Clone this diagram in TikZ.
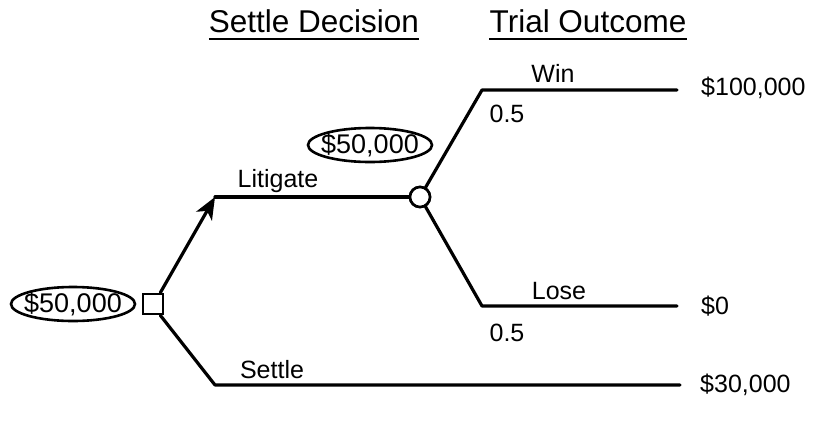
\documentclass[tikz,border=0pt]{standalone}
\usepackage{fontspec}
\setmainfont{Liberation Sans}
\usetikzlibrary{shapes.geometric,arrows.meta}
\begin{document}
\begin{tikzpicture}[x=1pt,y=-1pt,
  branch/.style={line width=3.2pt,line cap=round,line join=round},
  lbl/.style={font=\fontsize{25}{30}\selectfont,inner sep=0pt},
  head/.style={font=\fontsize{31.5}{36}\selectfont,inner sep=0pt,anchor=base},
  valoval/.style={ellipse,draw,line width=2.6pt,minimum width=124pt,minimum height=34pt,inner sep=0pt},
  ovtext/.style={font=\fontsize{27}{30}\selectfont,inner sep=0pt},
  decbox/.style={rectangle,draw,line width=2.6pt,minimum size=20pt,inner sep=0pt,fill=white},
  chancenode/.style={circle,draw,line width=2.6pt,minimum size=20pt,inner sep=0pt,fill=white}]
\useasboundingbox (0,0) rectangle (813,426);

% column headings
\node[head] (hdec) at (314,32) {Settle Decision};
\node[head] (hout) at (588,32) {Trial Outcome};
\draw[line width=1.8pt] ([yshift=-7pt]hdec.base west) -- ([yshift=-7pt]hdec.base east);
\draw[line width=1.8pt] ([yshift=-7pt]hout.base west) -- ([yshift=-7pt]hout.base east);

% branch corners and ends
\coordinate (litc) at (215,197);
\coordinate (setc) at (215,385);
\coordinate (sete) at (680,385);
\coordinate (winc) at (482,90);
\coordinate (wine) at (677,90);
\coordinate (losc) at (482,306);
\coordinate (lose) at (677,306);

% decision and chance nodes with their expected values
\node[decbox] (dec) at (153,304) {};
\node[valoval] (vdec) at (73,304) {};
\node[ovtext] (vdect) at (vdec) {\$50,000};
\node[chancenode] (chance) at (420,197) {};
\node[valoval] (vchance) at (370,145) {};
\node[ovtext] (vchancet) at (vchance) {\$50,000};

% decision branches
\draw[branch,-{Stealth[length=22pt,width=18pt,inset=6pt]}] ([xshift=-4pt]dec.north east) -- (litc);
\draw[branch] (litc) -- (chance);
\draw[branch] ([xshift=-4pt]dec.south east) -- (setc) -- (sete);

% chance branches
\draw[branch] (chance) -- (winc) -- (wine);
\draw[branch] (chance) -- (losc) -- (lose);

% redraw nodes above the branch ends
\node[decbox] at (dec) {};
\node[chancenode] at (chance) {};

% labels
\node[lbl] (llit) at (278,181) {Litigate};
\node[lbl] (lset) at (272,370) {Settle};
\node[lbl] (lwin) at (553,73) {Win};
\node[lbl] (pwin) at (507,114) {0.5};
\node[lbl] (llos) at (559,291) {Lose};
\node[lbl] (plos) at (507,333) {0.5};
\node[lbl,anchor=west] (owin) at (701,88) {\$100,000};
\node[lbl,anchor=west] (olos) at (701,306) {\$0};
\node[lbl,anchor=west] (oset) at (700,385) {\$30,000};
\end{tikzpicture}
\end{document}
